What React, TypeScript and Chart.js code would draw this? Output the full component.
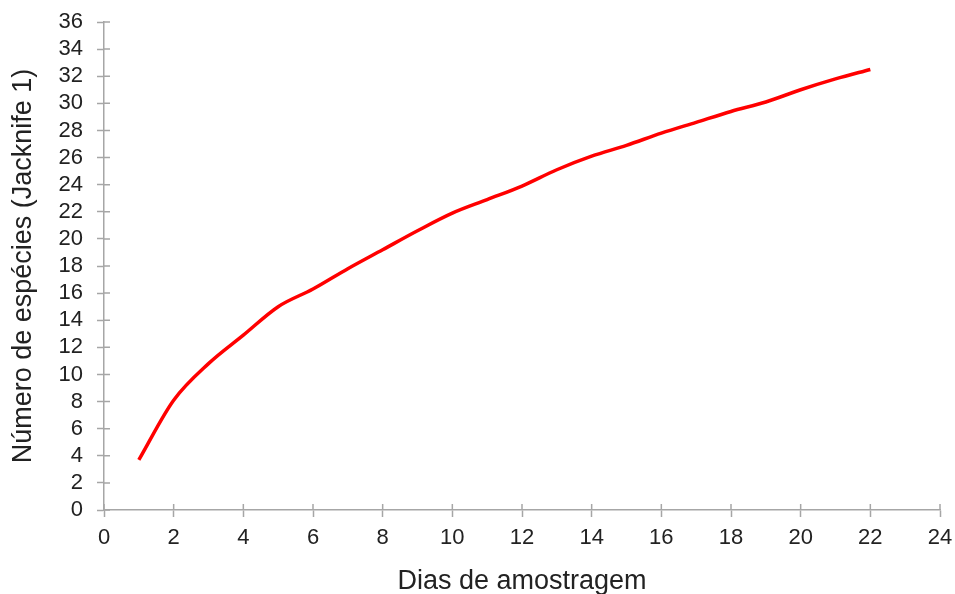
import React, { useEffect, useRef } from "react";
import { Chart, registerables } from "chart.js";

Chart.register(...registerables);

const days = [1, 2, 3, 4, 5, 6, 7, 8, 9, 10, 11, 12, 13, 14, 15, 16, 17, 18, 19, 20, 21, 22];
const species = [3.7, 8.1, 10.8, 12.9, 15.0, 16.3, 17.8, 19.2, 20.6, 21.9, 22.9, 23.9, 25.1, 26.1, 26.9, 27.8, 28.6, 29.4, 30.1, 31.0, 31.8, 32.5];
const xTitle = "Dias de amostragem";
const yTitle = "Número de espécies (Jacknife 1)";

const AXIS_COLOR = "#a6a6a6";
const TEXT_COLOR = "#222222";
const FONT = "Arial, 'Liberation Sans', sans-serif";

const innerTicks = {
  id: "innerTicks",
  afterDraw(chart: any) {
    const { ctx, chartArea, scales } = chart;
    ctx.save();
    ctx.strokeStyle = AXIS_COLOR;
    ctx.lineWidth = 1.5;
    ctx.beginPath();
    scales.x.ticks.forEach((t: any) => {
      const px = scales.x.getPixelForValue(t.value);
      ctx.moveTo(px, chartArea.bottom);
      ctx.lineTo(px, chartArea.bottom - 6);
    });
    scales.y.ticks.forEach((t: any) => {
      const py = scales.y.getPixelForValue(t.value);
      ctx.moveTo(chartArea.left, py);
      ctx.lineTo(chartArea.left + 6, py);
    });
    ctx.stroke();
    ctx.restore();
  },
};

export default function App() {
  const ref = useRef<HTMLCanvasElement>(null);
  useEffect(() => {
    if (!ref.current) return;
    const chart = new Chart(ref.current, {
      type: "line",
      data: {
        datasets: [
          {
            data: days.map((d, i) => ({ x: d, y: species[i] })),
            borderColor: "#ff0000",
            borderWidth: 3.5,
            pointRadius: 0,
            cubicInterpolationMode: "monotone",
            fill: false,
          },
        ],
      },
      options: {
        responsive: false,
        animation: false,
        layout: { padding: { top: 22, right: 15, left: 0, bottom: 0 } },
        plugins: { legend: { display: false }, tooltip: { enabled: false } },
        scales: {
          x: {
            type: "linear",
            min: 0,
            max: 24,
            afterFit: (s: any) => {
              s.height = 90;
              s.paddingLeft = 0;
              s.paddingRight = 0;
            },
            ticks: {
              stepSize: 2,
              autoSkip: false,
              maxRotation: 0,
              color: TEXT_COLOR,
              padding: 8,
              font: { family: FONT, size: 22 },
            },
            grid: { drawOnChartArea: false, drawTicks: true, tickLength: 7, tickColor: AXIS_COLOR, tickWidth: 1.5 },
            border: { color: AXIS_COLOR, width: 1.5 },
            title: {
              display: true,
              text: xTitle,
              color: TEXT_COLOR,
              font: { family: FONT, size: 27 },
              padding: { top: 0, bottom: 2 },
            },
          },
          y: {
            type: "linear",
            min: 0,
            max: 36,
            afterFit: (s: any) => {
              s.width = 104;
              s.paddingTop = 0;
              s.paddingBottom = 0;
            },
            ticks: {
              stepSize: 2,
              autoSkip: false,
              color: TEXT_COLOR,
              padding: 14,
              font: { family: FONT, size: 22 },
            },
            grid: { drawOnChartArea: false, drawTicks: true, tickLength: 7, tickColor: AXIS_COLOR, tickWidth: 1.5 },
            border: { color: AXIS_COLOR, width: 1.5 },
            title: {
              display: true,
              text: yTitle,
              color: TEXT_COLOR,
              font: { family: FONT, size: 27 },
              padding: { top: 7, bottom: 0 },
            },
          },
        },
      },
      plugins: [innerTicks],
    });
    return () => chart.destroy();
  }, []);
  return (
    <div style={{ position: "fixed", left: 0, top: 0, width: 955, height: 600, background: "#fff" }}>
      <canvas ref={ref} width={955} height={600} style={{ display: "block" }} />
    </div>
  );
}
